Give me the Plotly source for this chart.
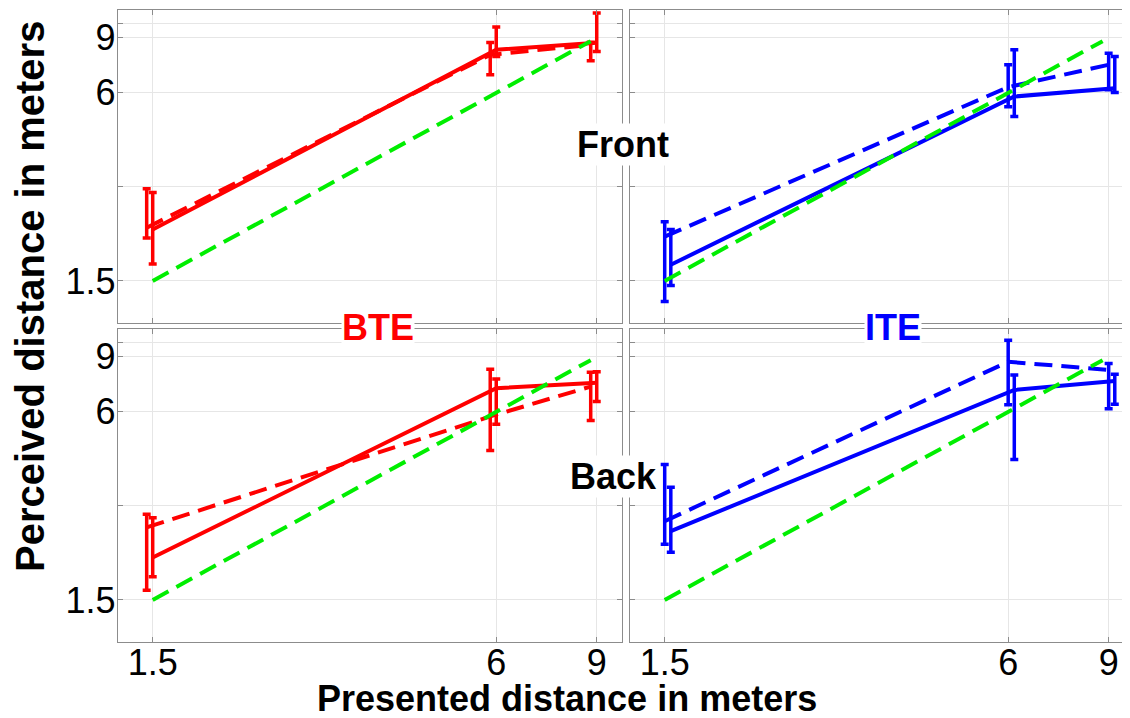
import numpy as np
import plotly.graph_objects as go

# ---------------- data ----------------
presented = [1.5, 6, 9]
ideal = [1.5, 9]

# BTE Front (top-left)
bte_front_solid = [2.19, 8.24, 8.68]
bte_front_solid_hi = [2.88, 9.74, 10.8]
bte_front_solid_lo = [1.70, 7.84, 8.14]
bte_front_dash = [2.22, 7.94, 8.55]
bte_front_dash_hi = [2.96, 8.70, 8.72]
bte_front_dash_lo = [2.06, 6.85, 7.60]

# ITE Front (top-right)
ite_front_solid = [1.69, 5.84, 6.21]
ite_front_solid_hi = [2.19, 8.24, 7.84]
ite_front_solid_lo = [1.45, 5.04, 6.01]
ite_front_dash = [2.08, 6.26, 7.38]
ite_front_dash_hi = [2.32, 7.38, 8.04]
ite_front_dash_lo = [1.29, 5.42, 6.14]

# BTE Back (bottom-left)
bte_back_solid = [2.05, 7.14, 7.44]
bte_back_solid_hi = [2.75, 7.65, 8.07]
bte_back_solid_lo = [1.78, 5.48, 6.47]
bte_back_dash = [2.56, 5.80, 7.23]
bte_back_dash_hi = [2.82, 8.21, 8.03]
bte_back_dash_lo = [1.61, 4.51, 5.63]

# ITE Back (bottom-right)
ite_back_solid = [2.49, 7.05, 7.53]
ite_back_solid_hi = [3.44, 7.87, 7.91]
ite_back_solid_lo = [2.13, 4.22, 6.35]
ite_back_dash = [2.68, 8.68, 8.17]
ite_back_dash_hi = [4.07, 10.18, 8.57]
ite_back_dash_lo = [2.26, 6.32, 6.14]

x_ticks = [1.5, 6, 9]
x_ticklabels = ["1.5", "6", "9"]
y_grid = [1.5, 3, 6, 9, 10]
y_ticklabels = ["1.5", "", "6", "9", ""]

panel_labels = ["Front", "Back", "BTE", "ITE"]

# ---------------- style ----------------
RED = "#ff0000"
BLUE = "#0000ff"
GREEN = "#00ee00"
FONT = "Liberation Sans, Arial, sans-serif"
OFF = 8  # page body margin
W, H = 1130 - OFF, 718 - OFF
DASH = "18px,9px"
LEFT_SHIFT = 0.976
RIGHT_SHIFT = 1.025


def px(x):
    return (x - OFF) / W


def py(y):
    return 1 - (y - OFF) / H


fig = go.Figure()

panels = [
    ("x", "y", RED, bte_front_solid, bte_front_solid_hi, bte_front_solid_lo,
     bte_front_dash, bte_front_dash_hi, bte_front_dash_lo, 1.0, LEFT_SHIFT),
    ("x2", "y2", BLUE, ite_front_solid, ite_front_solid_hi, ite_front_solid_lo,
     ite_front_dash, ite_front_dash_hi, ite_front_dash_lo, RIGHT_SHIFT, 1.0),
    ("x3", "y3", RED, bte_back_solid, bte_back_solid_hi, bte_back_solid_lo,
     bte_back_dash, bte_back_dash_hi, bte_back_dash_lo, 1.0, LEFT_SHIFT),
    ("x4", "y4", BLUE, ite_back_solid, ite_back_solid_hi, ite_back_solid_lo,
     ite_back_dash, ite_back_dash_hi, ite_back_dash_lo, RIGHT_SHIFT, 1.0),
]

for xa, ya, col, s, shi, slo, d, dhi, dlo, ss, ds in panels:
    for vals, hi, lo, shift, dash in [(s, shi, slo, ss, "solid"), (d, dhi, dlo, ds, DASH)]:
        xs = [p * shift for p in presented]
        fig.add_trace(go.Scatter(
            x=xs, y=vals, mode="lines", xaxis=xa, yaxis=ya,
            line=dict(color=col, width=4, dash=dash),
            error_y=dict(type="data", symmetric=False,
                         array=[h - v for h, v in zip(hi, vals)],
                         arrayminus=[v - l for l, v in zip(lo, vals)],
                         color=col, thickness=3.5, width=4),
            showlegend=False, hoverinfo="skip"))
    gx = [ideal[0], ideal[1] * LEFT_SHIFT]
    fig.add_trace(go.Scatter(
        x=gx, y=gx, mode="lines", xaxis=xa, yaxis=ya,
        line=dict(color=GREEN, width=4, dash=DASH),
        showlegend=False, hoverinfo="skip"))

xr_left = [np.log10(1.304), np.log10(9.966)]
xr_right = [np.log10(1.304), np.log10(9.81)]
yr = [np.log10(1.1), np.log10(11.05)]

axis_common = dict(
    type="log", showline=True, linecolor="#8c8c8c", linewidth=1.3, mirror="ticks",
    ticks="inside", ticklen=5, tickcolor="#8c8c8c", tickwidth=1,
    showgrid=True, gridcolor="#e6e6e6", gridwidth=1, zeroline=False,
    tickfont=dict(family=FONT, size=36, color="black"),
)

dom_xl = [px(118), px(622)]
dom_xr = [px(630), 1.0]
dom_yt = [py(323), py(10)]
dom_yb = [py(642), py(329)]

layout = dict(
    width=W, height=H, margin=dict(l=0, r=0, t=0, b=0),
    paper_bgcolor="white", plot_bgcolor="white", showlegend=False,
)

xdefs = {
    "xaxis": (dom_xl, xr_left, "y", False),
    "xaxis2": (dom_xr, xr_right, "y2", False),
    "xaxis3": (dom_xl, xr_left, "y3", True),
    "xaxis4": (dom_xr, xr_right, "y4", True),
}
for name, (dom, rng, anc, show) in xdefs.items():
    layout[name] = dict(axis_common, domain=dom, range=rng, anchor=anc,
                        tickvals=x_ticks, ticktext=x_ticklabels,
                        showticklabels=show, ticklabelstandoff=-11)

ydefs = {
    "yaxis": (dom_yt, "x", True),
    "yaxis2": (dom_yt, "x2", False),
    "yaxis3": (dom_yb, "x3", True),
    "yaxis4": (dom_yb, "x4", False),
}
for name, (dom, anc, show) in ydefs.items():
    layout[name] = dict(axis_common, domain=dom, range=yr, anchor=anc,
                        tickvals=y_grid, ticktext=y_ticklabels,
                        showticklabels=show, ticklabelstandoff=-6)

fig.update_layout(**layout)

bold = dict(family=FONT, size=36, color="black", weight="bold")
ann = [
    dict(text=panel_labels[0], x=px(623), y=py(145), font=bold),
    dict(text=panel_labels[1], x=px(613), y=py(476), font=bold),
    dict(text=panel_labels[2], x=px(378), y=py(327), font=dict(bold, color=RED)),
    dict(text=panel_labels[3], x=px(893), y=py(327), font=dict(bold, color=BLUE)),
]
for a in ann:
    fig.add_annotation(xref="paper", yref="paper", showarrow=False,
                       xanchor="center", yanchor="middle", bgcolor="white",
                       borderpad=0, **a)

fig.add_annotation(text="Presented distance in meters", xref="paper", yref="paper",
                   x=px(567), y=py(698), showarrow=False, xanchor="center", yanchor="middle",
                   font=dict(family=FONT, size=36, color="black", weight="bold"))
fig.add_annotation(text="Perceived distance in meters", xref="paper", yref="paper",
                   x=px(30), y=py(297), showarrow=False, xanchor="center", yanchor="middle",
                   textangle=-90,
                   font=dict(family=FONT, size=40, color="black", weight="bold"))

fig.write_html("out.html")
